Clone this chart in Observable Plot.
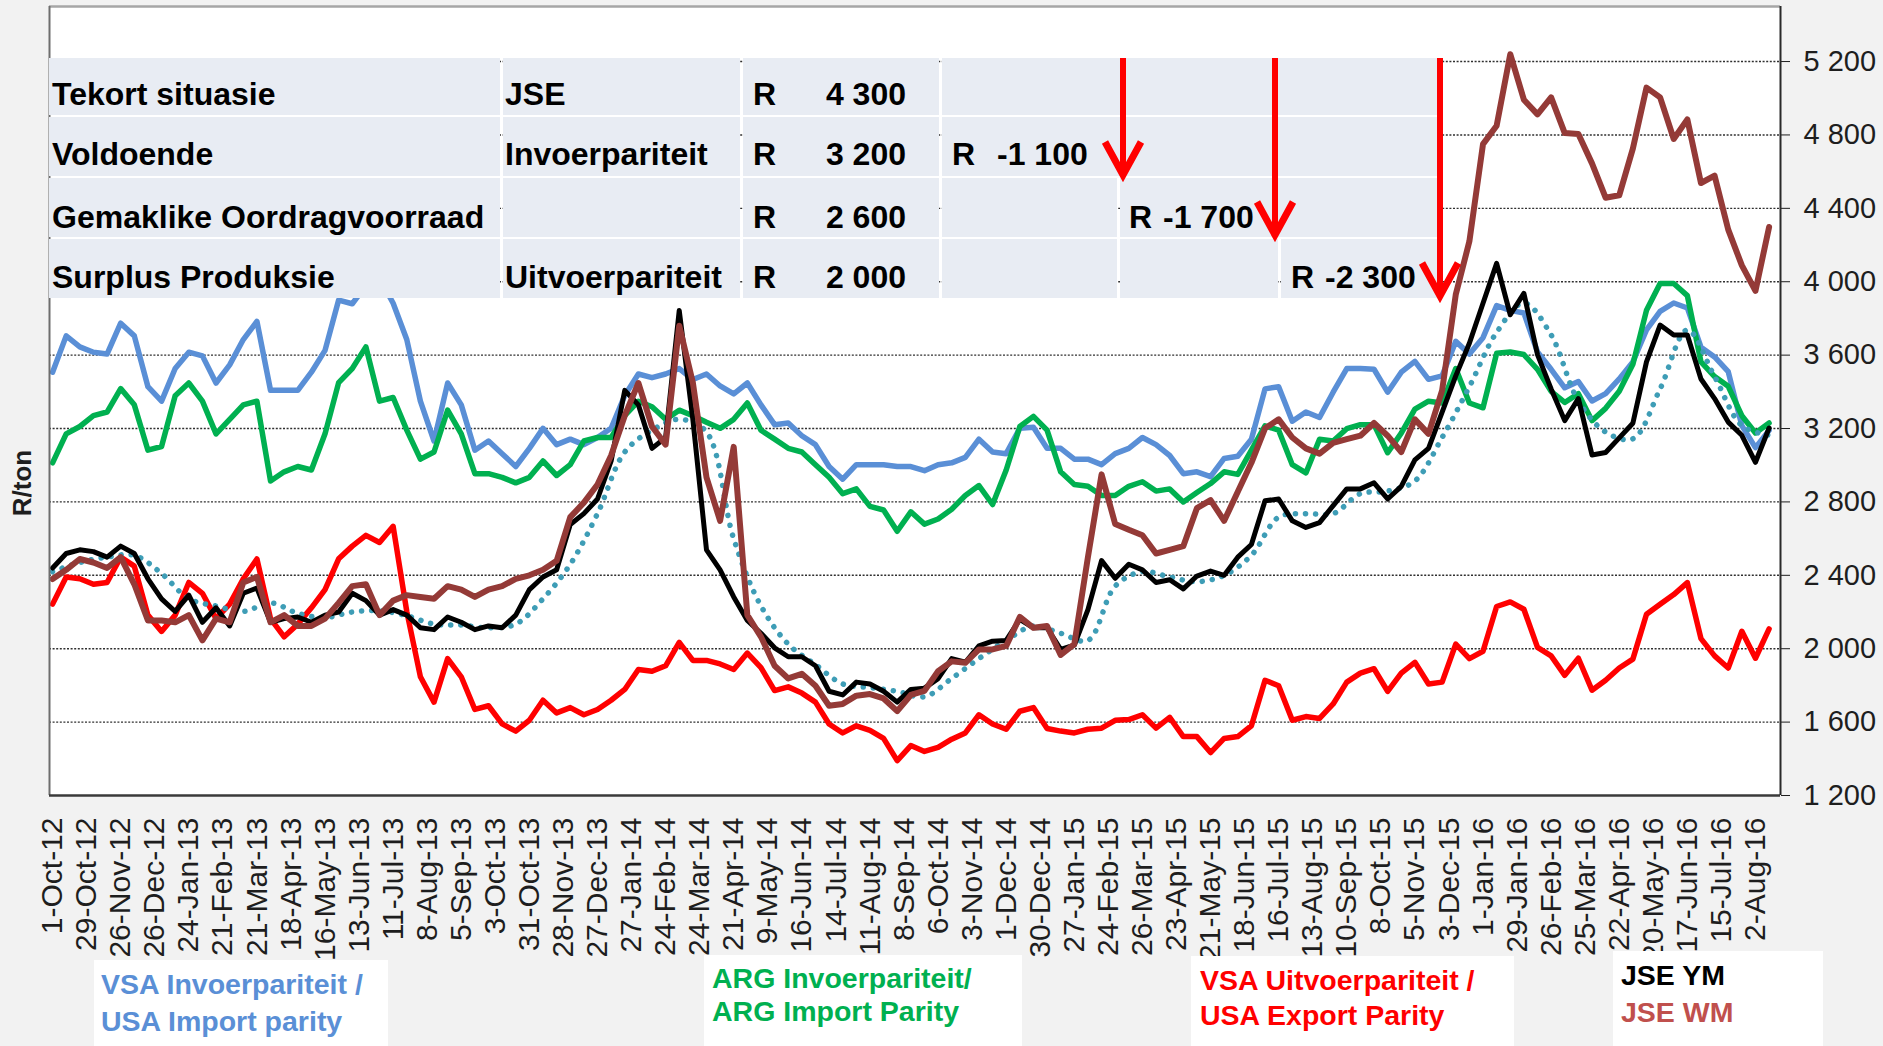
<!DOCTYPE html>
<html><head><meta charset="utf-8">
<script src="https://cdn.jsdelivr.net/npm/d3@7"></script>
<script src="https://cdn.jsdelivr.net/npm/@observablehq/plot@0.6"></script>
<style>
html,body{margin:0;padding:0;background:#f2f2f2;}
#wrap{position:relative;width:1883px;height:1046px;overflow:hidden;}
#wrap svg{position:absolute;left:0;top:0;}
</style></head><body><div id="wrap"></div>
<script>
// ---- data: trading-day index step 8 (series) and 16 (trend) ----
const STEP = 8, DSTEP = 16;
const vsaImport = [3507,3705,3645,3616,3606,3774,3705,3428,3349,3527,
3616,3596,3448,3547,3685,3784,3408,3408,3408,3507,
3626,3900,3880,3980,4020,3883,3685,3349,3132,3448,
3329,3082,3132,3063,2993,3092,3201,3112,3142,3112,
3151,3201,3380,3497,3477,3497,3527,3467,3497,3432,
3389,3448,3329,3221,3230,3161,3112,2993,2924,3003,
3003,3003,2993,2993,2970,3003,3013,3043,3142,3072,
3063,3201,3207,3092,3092,3033,3033,3003,3063,3092,
3151,3112,3053,2954,2964,2938,3037,3049,3142,3416,
3428,3240,3290,3260,3398,3527,3527,3523,3398,3507,
3566,3468,3487,3675,3606,3695,3870,3844,3830,3617,
3523,3422,3456,3350,3390,3470,3563,3737,3838,3884,
3857,3643,3590,3510,3216,3096,3190];
const argImport = [3013,3171,3211,3270,3290,3418,3329,3082,3102,3379,
3448,3349,3171,3250,3329,3349,2914,2964,2993,2974,
3171,3450,3527,3645,3349,3369,3191,3033,3072,3300,
3171,2954,2954,2934,2904,2934,3023,2944,3003,3132,
3151,3151,3270,3349,3319,3250,3300,3270,3234,3201,
3250,3339,3191,3142,3092,3072,3003,2934,2845,2871,
2776,2756,2640,2746,2679,2707,2760,2835,2889,2786,
2974,3211,3266,3191,2964,2895,2885,2835,2835,2885,
2910,2859,2871,2800,2851,2900,2964,2950,3082,3215,
3191,3003,2958,3142,3132,3199,3221,3221,3068,3175,
3306,3349,3339,3527,3339,3313,3610,3617,3603,3523,
3403,3342,3390,3243,3310,3403,3550,3844,3990,3990,
3924,3563,3483,3430,3270,3176,3230];
const vsaExport = [2243,2391,2381,2351,2361,2499,2450,2183,2094,2183,
2361,2302,2164,2243,2381,2489,2164,2065,2134,2223,
2322,2490,2559,2618,2579,2667,2203,1847,1709,1946,
1847,1669,1689,1590,1551,1610,1719,1650,1679,1640,
1669,1719,1778,1887,1877,1907,2035,1936,1936,1917,
1887,1976,1897,1772,1792,1758,1709,1590,1541,1580,
1555,1511,1390,1472,1440,1462,1507,1541,1640,1590,
1561,1659,1679,1565,1551,1541,1561,1567,1610,1614,
1640,1567,1626,1521,1521,1434,1511,1521,1580,1828,
1798,1610,1630,1620,1699,1818,1867,1891,1768,1867,
1926,1808,1818,2025,1946,1986,2230,2255,2215,2007,
1961,1855,1948,1774,1828,1895,1943,2188,2242,2295,
2360,2055,1961,1895,2095,1948,2108];
const jseYM = [2440,2519,2539,2529,2499,2559,2519,2381,2272,2203,
2292,2144,2223,2124,2302,2331,2144,2164,2173,2144,
2183,2200,2302,2262,2183,2213,2183,2114,2104,2173,
2144,2104,2124,2114,2183,2322,2391,2430,2677,2736,
2816,3023,3408,3329,3092,3151,3843,3250,2539,2430,
2282,2154,2084,2005,1956,1956,1907,1768,1748,1818,
1808,1768,1709,1778,1785,1837,1946,1926,2015,2041,
2045,2160,2114,2114,1996,2020,2213,2480,2384,2460,
2430,2361,2376,2326,2396,2423,2400,2499,2568,2806,
2816,2697,2661,2687,2780,2871,2871,2904,2816,2885,
3029,3092,3290,3487,3665,3883,4100,3820,3937,3603,
3416,3243,3363,3056,3069,3149,3229,3563,3764,3710,
3710,3470,3363,3235,3163,3016,3203];
const jseWM = [2380,2430,2489,2470,2440,2499,2351,2154,2154,2144,
2183,2045,2164,2144,2361,2391,2144,2183,2124,2124,
2164,2250,2341,2351,2183,2262,2292,2282,2272,2341,
2322,2282,2322,2341,2381,2400,2430,2479,2717,2796,
2895,3053,3270,3448,3211,3112,3760,3450,2934,2697,
3100,2183,2065,1907,1838,1863,1798,1689,1699,1744,
1753,1729,1660,1748,1770,1877,1931,1923,1996,1996,
2015,2173,2114,2124,1966,2025,2499,2950,2680,2648,
2618,2519,2539,2559,2766,2810,2697,2855,3013,3201,
3250,3151,3092,3063,3122,3142,3161,3230,3161,3072,
3250,3171,3408,3930,4220,4750,4850,5240,4992,4912,
5005,4810,4805,4645,4458,4471,4725,5058,5005,4778,
4885,4538,4578,4284,4089,3950,4298];
const jseTrend = [2420,2470,2499,2509,2410,2272,2233,2203,2250,2193,
2170,2200,2207,2180,2134,2129,2114,2134,2272,2460,
2736,3072,3191,3250,3181,2598,2233,2025,1913,1808,
1788,1768,1738,1838,1946,2045,2124,2084,2045,2341,
2420,2391,2365,2400,2509,2717,2736,2736,2845,2859,
2914,3151,3428,3724,3884,3710,3350,3181,3144,3416,
3737,3483,3216,3163];
const xTickLabels = ["1-Oct-12","29-Oct-12","26-Nov-12","26-Dec-12","24-Jan-13","21-Feb-13","21-Mar-13","18-Apr-13","16-May-13","13-Jun-13",
"11-Jul-13","8-Aug-13","5-Sep-13","3-Oct-13","31-Oct-13","28-Nov-13","27-Dec-13","27-Jan-14","24-Feb-14","24-Mar-14",
"21-Apr-14","9-May-14","16-Jun-14","14-Jul-14","11-Aug-14","8-Sep-14","6-Oct-14","3-Nov-14","1-Dec-14","30-Dec-14",
"27-Jan-15","24-Feb-15","26-Mar-15","23-Apr-15","21-May-15","18-Jun-15","16-Jul-15","13-Aug-15","10-Sep-15","8-Oct-15",
"5-Nov-15","3-Dec-15","1-Jan-16","29-Jan-16","26-Feb-16","25-Mar-16","22-Apr-16","20-May-16","17-Jun-16","15-Jul-16","2-Aug-16"];
const xTickEvery = 20;
const yTicks = [1200,1600,2000,2400,2800,3200,3600,4000,4400,4800,5200];
const yLabel = "R/ton";
const tableLabels = ["Tekort situasie","Voldoende","Gemaklike Oordragvoorraad","Surplus Produksie"];
const tableMarkets = ["JSE","Invoerpariteit","","Uitvoerpariteit"];
const tablePrices = ["4 300","3 200","2 600","2 000"];
const tableDiffs = ["","-1 100","-1 700","-2 300"];
const legendTexts = [["VSA Invoerpariteit /","USA Import parity"],["ARG Invoerpariteit/","ARG Import Parity"],["VSA Uitvoerpariteit /","USA Export Parity"],["JSE YM","JSE WM"]];

// ---- chart ----
const W = 1883, H = 1046;
const xDomain = [-1.8, 1014.7], yDomain = [1200, 5500];
const toRows = (arr, step) => arr.map((v, k) => ({i: k * step, v}));
const fmt = d => d3.format(",")(d).replace(/,/g, " ");
const C = {blue:"#5a8fd6", green:"#00b050", red:"#ff0000", black:"#000000", brown:"#943a37", teal:"#3e9db6"};
const lineOpts = (c, w) => ({x:"i", y:"v", stroke:c, strokeWidth:w, strokeLinejoin:"round", strokeLinecap:"round"});

const chart = Plot.plot({
  width: W, height: H,
  marginLeft: 49, marginRight: 103, marginTop: 6, marginBottom: 251,
  style: {background: "transparent", fontFamily: "'Liberation Sans', Arial, sans-serif", fontSize: "30px", color: "#1e1e1e"},
  x: {domain: xDomain, ticks: xTickLabels.map((_, k) => k * xTickEvery), tickFormat: d => xTickLabels[Math.round(d / xTickEvery)],
      tickRotate: -90, tickSize: 0, tickPadding: 22, label: null},
  y: {domain: yDomain, ticks: yTicks, tickFormat: fmt, axis: "right", tickSize: 9, tickPadding: 14, label: null},
  marks: [
    Plot.frame({fill: "white"}),
    Plot.ruleY(yTicks.filter(d => d > yDomain[0]), {stroke: "#303030", strokeWidth: 1.4, strokeDasharray: "2,1.6"}),
    Plot.line(toRows(vsaImport, STEP), lineOpts(C.blue, 5.5)),
    Plot.line(toRows(argImport, STEP), lineOpts(C.green, 5.5)),
    Plot.line(toRows(vsaExport, STEP), lineOpts(C.red, 5.5)),
    Plot.line(toRows(jseTrend, DSTEP), {x:"i", y:"v", stroke:C.teal, strokeWidth:5.5, strokeDasharray:"0.1,10", strokeLinecap:"round", curve:"catmull-rom"}),
    Plot.line(toRows(jseYM, STEP), lineOpts(C.black, 5)),
    Plot.line(toRows(jseWM, STEP), lineOpts(C.brown, 6)),
    Plot.ruleY([yDomain[1]], {stroke: "#a6a6a6", strokeWidth: 2.5}),
    Plot.ruleX([xDomain[0]], {stroke: "#6e6e6e", strokeWidth: 2}),
    Plot.ruleY([yDomain[0]], {stroke: "#3a3a3a", strokeWidth: 2.5}),
    Plot.ruleX([xDomain[1]], {stroke: "#2a2a2a", strokeWidth: 2})
  ]
});
d3.select(chart).selectAll('[aria-label^="y-axis"] text').style("font-size", "29px");
document.getElementById("wrap").appendChild(chart);

// ---- overlay: table, arrows, axis title, legend ----
const ov = d3.select("#wrap").append("svg").attr("width", W).attr("height", H)
  .style("pointer-events", "none").attr("font-family", "'Liberation Sans', Arial, sans-serif");

const rowsY = [[58,115],[117,176],[178,237],[239,298]];
const rowBase = [105,165,228,288];
const extraCells = [[[942,1437]],[[942,1437]],[[942,1117],[1120,1437]],[[942,1117],[1120,1278],[1281,1437]]];
const cellFill = "#e8ecf3";
rowsY.forEach(([t, b], r) => {
  const cells = [[49,500],[503,740],[743,939], ...extraCells[r]];
  cells.forEach(([a, z]) => ov.append("rect").attr("x", a).attr("y", t).attr("width", z - a).attr("height", b - t).attr("fill", cellFill));
  const tx = (x, s, anchor) => ov.append("text").attr("x", x).attr("y", rowBase[r]).attr("font-size", 32).attr("font-weight", "bold")
    .attr("fill", "#000").attr("text-anchor", anchor || "start").text(s);
  tx(52, tableLabels[r]);
  if (tableMarkets[r]) tx(505, tableMarkets[r]);
  tx(753, "R");
  tx(906, tablePrices[r], "end");
});
// differences
const diffPos = [null, {rx:952, nx:997}, {rx:1129, nx:1163}, {rx:1291, nx:1325}];
diffPos.forEach((p, r) => {
  if (!p) return;
  ov.append("text").attr("x", p.rx).attr("y", rowBase[r]).attr("font-size", 32).attr("font-weight", "bold").text("R");
  ov.append("text").attr("x", p.nx).attr("y", rowBase[r]).attr("font-size", 32).attr("font-weight", "bold").text(tableDiffs[r]);
});
// arrows
[[1123,177],[1275,237],[1440,298]].forEach(([x, tip]) => {
  ov.append("path").attr("d", `M${x},58 L${x},${tip - 3}`).attr("stroke", "#ff0000").attr("stroke-width", 6).attr("fill", "none");
  ov.append("path").attr("d", `M${x - 18},${tip - 35} L${x},${tip - 2} L${x + 18},${tip - 35}`)
    .attr("stroke", "#ff0000").attr("stroke-width", 7).attr("fill", "none").attr("stroke-linejoin", "miter");
});
// y title
ov.append("text").attr("transform", "translate(31,483) rotate(-90)").attr("text-anchor", "middle")
  .attr("font-size", 26).attr("font-weight", "bold").attr("fill", "#1e1e1e").text(yLabel);
// legend boxes
const boxes = [
  {x:94, w:294, y:960, tx:101, b:[994,1031], c:[C.blue, C.blue]},
  {x:704, w:318, y:955, tx:712, b:[988,1021], c:[C.green, C.green]},
  {x:1191, w:323, y:956, tx:1200, b:[990,1025], c:[C.red, C.red]},
  {x:1613, w:210, y:951, tx:1621, b:[985,1022], c:["#000000", "#c0504d"]}
];
boxes.forEach((bx, k) => {
  ov.append("rect").attr("x", bx.x).attr("y", bx.y).attr("width", bx.w).attr("height", H - bx.y).attr("fill", "white");
  legendTexts[k].forEach((s, j) => ov.append("text").attr("x", bx.tx).attr("y", bx.b[j]).attr("font-size", 28.5)
    .attr("font-weight", "bold").attr("fill", bx.c[j]).text(s));
});
</script></body></html>
